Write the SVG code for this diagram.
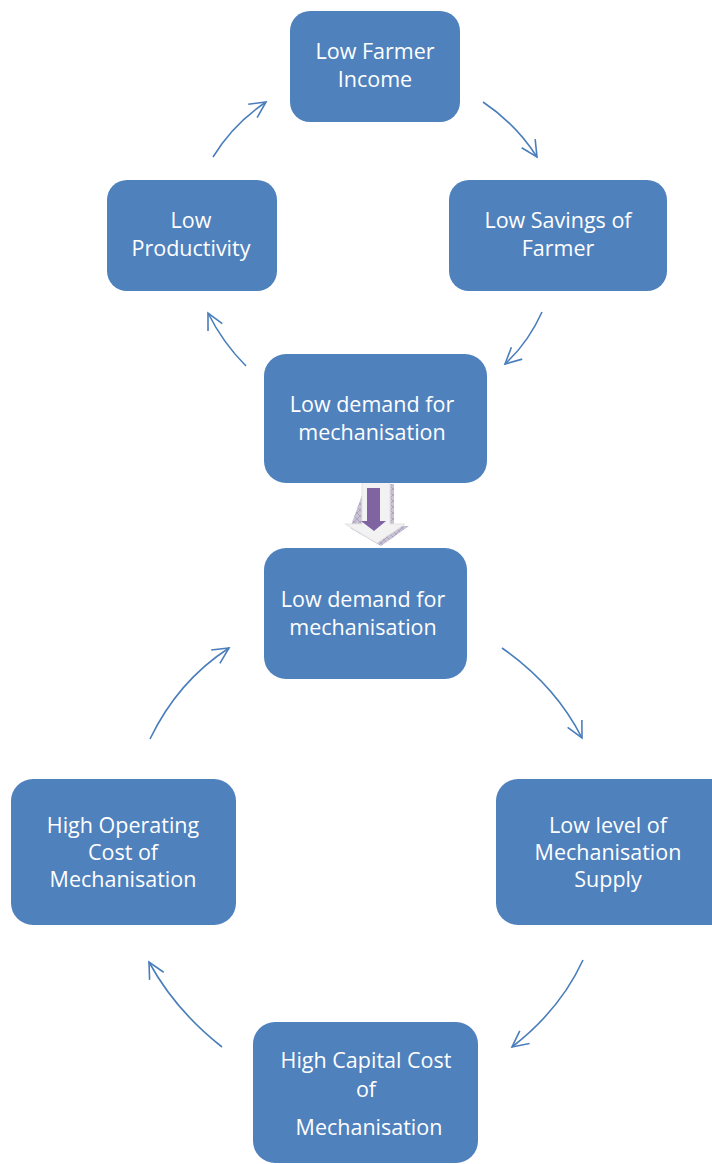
<svg xmlns="http://www.w3.org/2000/svg" width="712" height="1164" viewBox="0 0 712 1164">
<style>
.box{fill:#4F81BD;}
.lbl{font-family:"Open Sans","Liberation Sans",sans-serif;font-size:21.5px;fill:#FFFFFF;text-anchor:middle;}
.con{fill:none;stroke:#4A7EBB;stroke-width:1.6;marker-end:url(#arr);}
</style>
<defs>
<marker id="arr" markerUnits="userSpaceOnUse" viewBox="0 0 20 20" markerWidth="20" markerHeight="20" refX="17" refY="10" orient="auto">
<path d="M1,2 L17,10 L1,18" fill="none" stroke="#4A7EBB" stroke-width="1.6"/>
</marker>
<pattern id="hatch" width="6" height="6" patternUnits="userSpaceOnUse">
<rect width="6" height="6" fill="#C9C2D4"/>
<path d="M0,0 L6,6 M6,0 L0,6" stroke="#9E94B0" stroke-width="0.6"/>
</pattern>
</defs>
<rect width="712" height="1164" fill="#FFFFFF"/>
<g id="connectors">
<path class="con" d="M213,157 Q233,124 266,102"/>
<path class="con" d="M483,102 Q516,124 537,157"/>
<path class="con" d="M542,312 Q528,343 505,364"/>
<path class="con" d="M246,366 Q223,343 208,313"/>
<path class="con" d="M502,648 Q555,685 582,738"/>
<path class="con" d="M150,739 Q178,681 229,648"/>
<path class="con" d="M583,960 Q560,1010 512,1047"/>
<path class="con" d="M222,1047 Q175,1010 149,962"/>
</g>
<g id="down-arrow">
<path d="M366,484 L394,484 L394,526 L409,526 L381,546 L350,528 Z" fill="url(#hatch)"/>
<path d="M362,480 L390,480 L390,524 L405,524 L377,543 L345,524 L362,524 Z" fill="#F2F2F2" stroke="#E4E4E4" stroke-width="1"/>
<path d="M367,488 L380,488 L380,521 L386,521 L374,531 L361,521 L367,521 Z" fill="#8064A2"/>
</g>
<g id="n-income">
<rect class="box" x="290" y="11" width="170" height="111" rx="20"/>
<text class="lbl" x="375" y="59">Low Farmer</text>
<text class="lbl" x="375" y="87">Income</text>
</g>
<g id="n-productivity">
<rect class="box" x="107" y="180" width="170" height="111" rx="20"/>
<text class="lbl" x="191" y="228">Low</text>
<text class="lbl" x="191" y="256">Productivity</text>
</g>
<g id="n-savings">
<rect class="box" x="449" y="180" width="218" height="111" rx="20"/>
<text class="lbl" x="558" y="228">Low Savings of</text>
<text class="lbl" x="558" y="256">Farmer</text>
</g>
<g id="n-demand1">
<rect class="box" x="264" y="354" width="223" height="129" rx="22"/>
<text class="lbl" x="372" y="412">Low demand for</text>
<text class="lbl" x="372" y="440">mechanisation</text>
</g>
<g id="n-demand2">
<rect class="box" x="264" y="548" width="203" height="131" rx="22"/>
<text class="lbl" x="363" y="607">Low demand for</text>
<text class="lbl" x="363" y="635">mechanisation</text>
</g>
<g id="n-operating">
<rect class="box" x="11" y="779" width="225" height="146" rx="22"/>
<text class="lbl" x="123" y="833">High Operating</text>
<text class="lbl" x="123" y="860">Cost of</text>
<text class="lbl" x="123" y="887">Mechanisation</text>
</g>
<g id="n-supply">
<rect class="box" x="496" y="779" width="240" height="146" rx="22"/>
<text class="lbl" x="608" y="833">Low level of</text>
<text class="lbl" x="608" y="860">Mechanisation</text>
<text class="lbl" x="608" y="887">Supply</text>
</g>
<g id="n-capital">
<rect class="box" x="253" y="1022" width="225" height="141" rx="22"/>
<text class="lbl" x="366" y="1068">High Capital Cost</text>
<text class="lbl" x="366" y="1097">of</text>
<text class="lbl" x="369" y="1135">Mechanisation</text>
</g>
</svg>
